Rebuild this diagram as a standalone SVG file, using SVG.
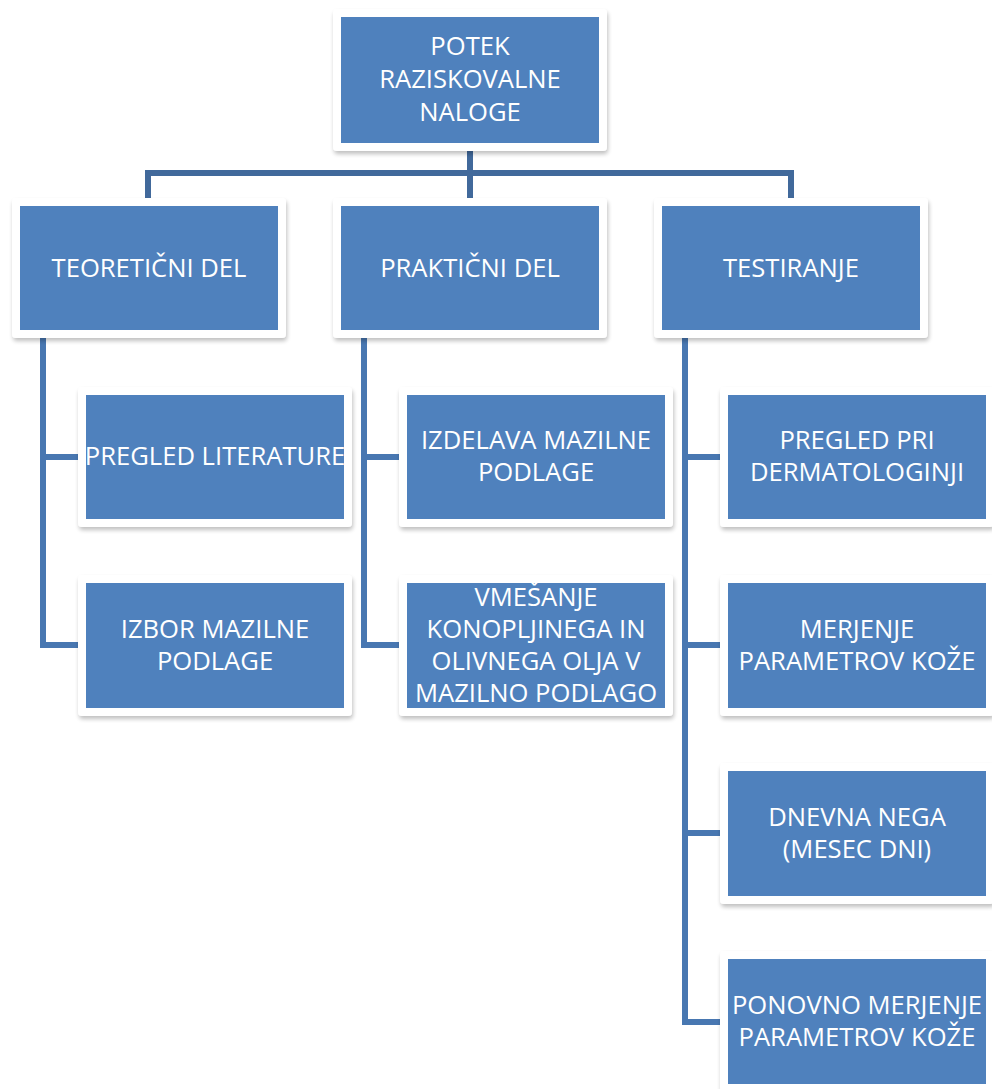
<svg xmlns="http://www.w3.org/2000/svg" width="992" height="1089" viewBox="0 0 992 1089">
<style>
.frame{fill:#ffffff;filter:url(#sh);}
.box{fill:#4f81bd;}
.t{font-family:"Open Sans","Noto Sans","Liberation Sans",sans-serif;font-size:25.6px;fill:#ffffff;text-anchor:middle;}
.c1{fill:none;stroke:#41699b;stroke-width:6;}
.c2{fill:none;stroke:#4877b1;stroke-width:6;}
</style>
<defs>
<filter id="sh" x="-10%" y="-10%" width="120%" height="125%">
<feGaussianBlur in="SourceAlpha" stdDeviation="2"/>
<feOffset dx="1" dy="3" result="b"/>
<feComponentTransfer><feFuncA type="linear" slope="0.25"/></feComponentTransfer>
<feMerge><feMergeNode/><feMergeNode in="SourceGraphic"/></feMerge>
</filter>
</defs>
<rect width="992" height="1089" fill="#ffffff"/>
<g id="connectors">
<path class="c1" d="M470 150V198M148 198V173H791V198"/>
<path class="c2" d="M43 338V645H86M43 457H86"/>
<path class="c2" d="M364 338V645H407M364 457H407"/>
<path class="c2" d="M685 338V1022H728M685 457H728M685 645H728M685 833H728"/>
</g>
<g id="root">
<rect class="frame" x="333" y="9" width="274" height="142" rx="4"/>
<rect class="box" x="341" y="17" width="258" height="126"/>
<text class="t" x="470" y="55">POTEK</text>
<text class="t" x="470" y="88">RAZISKOVALNE</text>
<text class="t" x="470" y="121">NALOGE</text>
</g>
<g id="teoreticni">
<rect class="frame" x="12" y="198" width="274" height="140" rx="4"/>
<rect class="box" x="20" y="206" width="258" height="124"/>
<text class="t" x="149" y="277">TEORETIČNI DEL</text>
</g>
<g id="prakticni">
<rect class="frame" x="333" y="198" width="274" height="140" rx="4"/>
<rect class="box" x="341" y="206" width="258" height="124"/>
<text class="t" x="470" y="277">PRAKTIČNI DEL</text>
</g>
<g id="testiranje">
<rect class="frame" x="654" y="198" width="274" height="140" rx="4"/>
<rect class="box" x="662" y="206" width="258" height="124"/>
<text class="t" x="791" y="277">TESTIRANJE</text>
</g>
<g id="pregled-literature">
<rect class="frame" x="78" y="387" width="274" height="140" rx="4"/>
<rect class="box" x="86" y="395" width="258" height="124"/>
<text class="t" x="215" y="465">PREGLED LITERATURE</text>
</g>
<g id="izbor">
<rect class="frame" x="78" y="575" width="274" height="141" rx="4"/>
<rect class="box" x="86" y="583" width="258" height="125"/>
<text class="t" x="215" y="638">IZBOR MAZILNE</text>
<text class="t" x="215" y="670">PODLAGE</text>
</g>
<g id="izdelava">
<rect class="frame" x="399" y="387" width="274" height="140" rx="4"/>
<rect class="box" x="407" y="395" width="258" height="124"/>
<text class="t" x="536" y="449">IZDELAVA MAZILNE</text>
<text class="t" x="536" y="481">PODLAGE</text>
</g>
<g id="vmesanje">
<rect class="frame" x="399" y="575" width="274" height="141" rx="4"/>
<rect class="box" x="407" y="583" width="258" height="125"/>
<text class="t" x="536" y="606">VMEŠANJE</text>
<text class="t" x="536" y="638">KONOPLJINEGA IN</text>
<text class="t" x="536" y="670">OLIVNEGA OLJA V</text>
<text class="t" x="536" y="702">MAZILNO PODLAGO</text>
</g>
<g id="dermatologinja">
<rect class="frame" x="720" y="387" width="274" height="140" rx="4"/>
<rect class="box" x="728" y="395" width="258" height="124"/>
<text class="t" x="857" y="449">PREGLED PRI</text>
<text class="t" x="857" y="481">DERMATOLOGINJI</text>
</g>
<g id="merjenje">
<rect class="frame" x="720" y="575" width="274" height="141" rx="4"/>
<rect class="box" x="728" y="583" width="258" height="125"/>
<text class="t" x="857" y="638">MERJENJE</text>
<text class="t" x="857" y="670">PARAMETROV KOŽE</text>
</g>
<g id="dnevna-nega">
<rect class="frame" x="720" y="763" width="274" height="141" rx="4"/>
<rect class="box" x="728" y="771" width="258" height="125"/>
<text class="t" x="857" y="826">DNEVNA NEGA</text>
<text class="t" x="857" y="858">(MESEC DNI)</text>
</g>
<g id="ponovno-merjenje">
<rect class="frame" x="720" y="951" width="274" height="141" rx="4"/>
<rect class="box" x="728" y="959" width="258" height="125"/>
<text class="t" x="857" y="1014">PONOVNO MERJENJE</text>
<text class="t" x="857" y="1046">PARAMETROV KOŽE</text>
</g>
</svg>
